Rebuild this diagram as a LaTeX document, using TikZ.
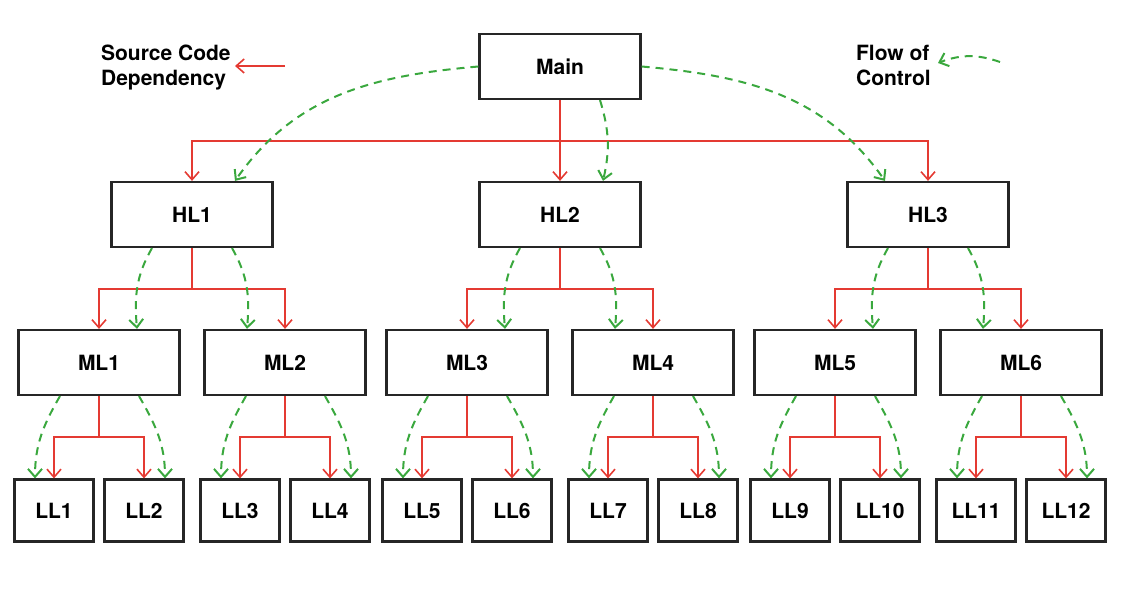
\documentclass[tikz,border=0pt]{standalone}
\usepackage{fontspec}
\setmainfont{TeX Gyre Heros}
\usetikzlibrary{arrows.meta}
\definecolor{depred}{RGB}{228,58,50}
\definecolor{flowgreen}{RGB}{58,168,62}
\begin{document}
\begin{tikzpicture}
            [level distance=74pt,
            font=\bfseries\fontsize{10.5}{12.5}\selectfont,
            every node/.style={draw=black!85, line width=1.1pt, fill=white, minimum width=80.5pt, minimum height=32.5pt, inner sep=1pt},
            level 1/.style={sibling distance=184pt},
            level 2/.style={sibling distance=93pt},
            level 3/.style={sibling distance=45pt, nodes={minimum width=39.5pt, minimum height=31pt}},
            dep/.style={draw=depred, line width=0.8pt, -{Straight Barb[length=4pt,width=7pt]}},
            flow/.style={draw=flowgreen, line width=1pt, dash pattern=on 4pt off 3pt, -{Straight Barb[length=4pt,width=7pt]}},
            legend/.style={draw=none, fill=none, minimum size=0pt, inner sep=0pt, align=left},
            edge from parent/.style={dep},
            edge from parent path={(\tikzparentnode.south) -- ++(0,-20.5pt) -| (\tikzchildnode.north)}]
            \useasboundingbox (0,0) rectangle (562pt,-296pt);
            \node (main) at (280pt,-33.25pt) {Main}
            child { node (hl1) {HL1}
                child { node (ml1) {ML1}
                    child { node (ll1) {LL1} }
                    child { node (ll2) {LL2} } }
                child { node (ml2) {ML2}
                    child { node (ll3) {LL3} }
                    child { node (ll4) {LL4} } } }
            child { node (hl2) {HL2}
                child { node (ml3) {ML3}
                    child { node (ll5) {LL5} }
                    child { node (ll6) {LL6} } }
                child { node (ml4) {ML4}
                    child { node (ll7) {LL7} }
                    child { node (ll8) {LL8} } } }
            child { node (hl3) {HL3}
                child { node (ml5) {ML5}
                    child { node (ll9) {LL9} }
                    child { node (ll10) {LL10} } }
                child { node (ml6) {ML6}
                    child { node (ll11) {LL11} }
                    child { node (ll12) {LL12} } } };
            % flow of control
            \draw[flow] (main.west) to[out=185,in=55] ([xshift=21.5pt]hl1.north);
            \draw[flow] ([xshift=20pt]main.south) to[bend left=15] ([xshift=21.5pt]hl2.north);
            \draw[flow] (main.east) to[out=-5,in=125] ([xshift=-21.5pt]hl3.north);
            \foreach \up/\lt/\rt in {hl1/ml1/ml2, hl2/ml3/ml4, hl3/ml5/ml6} {
                \draw[flow] ([xshift=-20pt]\up.south) to[out=-120,in=95] ([xshift=19pt]\lt.north);
                \draw[flow] ([xshift=20pt]\up.south) to[out=-60,in=85] ([xshift=-19pt]\rt.north);
            }
            \foreach \up/\lt/\rt in {ml1/ll1/ll2, ml2/ll3/ll4, ml3/ll5/ll6, ml4/ll7/ll8, ml5/ll9/ll10, ml6/ll11/ll12} {
                \draw[flow] ([xshift=-19.5pt]\up.south) to[out=-120,in=90] ([xshift=-9.5pt]\lt.north);
                \draw[flow] ([xshift=20pt]\up.south) to[out=-60,in=90] ([xshift=10.5pt]\rt.north);
            }
            % legend
            \node[legend, anchor=north west] (deplabel) at (50pt,-22pt) {Source Code\\Dependency};
            \coordinate (deptail) at (142.5pt,-33pt);
            \coordinate (dephead) at (117.5pt,-33pt);
            \draw[dep] (deptail) -- (dephead);
            \node[legend, anchor=north west] (flowlabel) at (427.5pt,-22pt) {Flow of\\Control};
            \coordinate (flowtail) at (500pt,-31pt);
            \coordinate (flowhead) at (469pt,-31.5pt);
            \draw[flow] (flowtail) to[bend right=20] (flowhead);
        \end{tikzpicture}
\end{document}
